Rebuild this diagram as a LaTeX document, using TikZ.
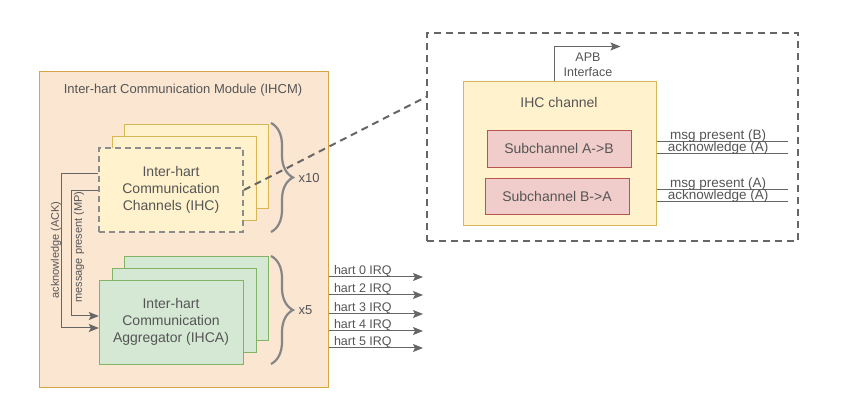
\documentclass[tikz,border=0pt]{standalone}
\usepackage{fontspec}
\setmainfont{Liberation Sans}
\usetikzlibrary{decorations.pathreplacing, arrows.meta}
\definecolor{txtgray}{HTML}{555555}
\definecolor{linegray}{HTML}{666666}
\definecolor{modfill}{HTML}{FAE6D1}
\definecolor{moddraw}{HTML}{D6A548}
\definecolor{ylwfill}{HTML}{FFF2CC}
\definecolor{ylwdraw}{HTML}{D6B656}
\definecolor{grnfill}{HTML}{D5E8D4}
\definecolor{grndraw}{HTML}{82B366}
\definecolor{redfill}{HTML}{F0CDCB}
\definecolor{reddraw}{HTML}{B85450}
\begin{document}
\begin{tikzpicture}[x=1pt, y=-1pt, every node/.style={text=txtgray},
    card/.style={shape=rectangle, draw=ylwdraw, fill=ylwfill, minimum width=144pt, minimum height=84pt, align=center, font=\fontsize{14}{17}\selectfont},
    aggcard/.style={card, draw=grndraw, fill=grnfill},
    subbox/.style={shape=rectangle, draw=reddraw, fill=redfill, minimum width=144pt, minimum height=37pt, font=\fontsize{14}{17}\selectfont},
    sig/.style={draw=linegray, line width=1pt},
    sigarrow/.style={sig, -{Stealth[length=10pt, width=8pt, inset=2pt]}},
    lbl/.style={font=\fontsize{13}{15}\selectfont},
    small/.style={font=\fontsize{11}{13}\selectfont},
    siglbl/.style={pos=0.47, anchor=south, inner sep=0pt, yshift=-1pt, font=\fontsize{13.5}{15}\selectfont},
    bracket/.style={draw=gray!95, line width=2.2pt, decorate, decoration={brace, amplitude=22pt}},
    zoomline/.style={draw=linegray, line width=2pt, dash pattern=on 7pt off 5pt}]
    \useasboundingbox (0,0) rectangle (855,411);

    % module
    \node[shape=rectangle, draw=moddraw, fill=modfill, line width=1pt, minimum width=289pt, minimum height=316pt] (ihcm) at (183.5,230) {};
    \node[lbl] (ihcmtitle) at (183,90) {Inter-hart Communication Module (IHCM)};

    % channel stack
    \node[card] (ihcback) at (196,166) {};
    \node[card] (ihcmid) at (184,178.5) {};
    \node[card, draw=gray!90, line width=2pt, dash pattern=on 6pt off 4pt] (ihc) at (171,190) {Inter-hart\\Communication\\Channels (IHC)};
    \draw[bracket] (271,123) -- (271,232);
    \node[lbl, anchor=west] (ihcnum) at (295,178) {x10};

    % aggregator stack
    \node[aggcard] (ihcaback) at (196,298.5) {};
    \node[aggcard] (ihcamid) at (184,310) {};
    \node[aggcard] (ihca) at (171,322) {Inter-hart\\Communication\\Aggregator (IHCA)};
    \draw[bracket] (271,256) -- (271,364);
    \node[lbl, anchor=west] (ihcanum) at (295,310) {x5};

    % ack / mp
    \draw[sigarrow] ([yshift=16pt]ihc.west) -- ++(-37,0) |- ([yshift=-6pt]ihca.west);
    \draw[sigarrow] ([yshift=-1pt]ihc.west) -- ++(-27,0) |- ([yshift=6pt]ihca.west);
    \node[small, rotate=90] (acklbl) at (56,250) {acknowledge (ACK)};
    \node[small, rotate=90] (mplbl) at (79,247) {message present (MP)};

    % irq outputs
    \foreach \h/\y in {0/277, 2/295, 3/314, 4/331, 5/348} {
        \coordinate (irq\h) at (423,\y);
        \draw[sigarrow] (ihcm.east |- irq\h) -- (irq\h) node[pos=0, anchor=south west, inner sep=0pt, xshift=5pt, font=\fontsize{12.5}{14}\selectfont] {hart \h\ IRQ};
    }

    % zoomed channel
    \node[shape=rectangle, draw=linegray, line width=2pt, dash pattern=on 7pt off 5pt, minimum width=371pt, minimum height=208pt] (zoom) at (612.5,137) {};
    \draw[zoomline] (ihc.east) -- ([yshift=40pt]zoom.west);
    \node[shape=rectangle, draw=ylwdraw, fill=ylwfill, line width=1pt, minimum width=193pt, minimum height=144pt] (chan) at (559.5,154) {};
    \node[font=\fontsize{14}{17}\selectfont] (chantitle) at (559,102) {IHC channel};
    \node[subbox] (subab) at (559,148.5) {Subchannel A->B};
    \node[subbox, minimum height=36pt] (subba) at (557,196) {Subchannel B->A};

    \draw[sigarrow] ([xshift=-5pt]chan.north) -- ++(0,-35) -- ++(66,0);
    \node[align=center, font=\fontsize{12.5}{15}\selectfont] (apb) at (588,65) {APB\\Interface};

    \draw[sig] ([yshift=12pt]chan.east) -- ++(131,0) node[siglbl] {msg present (B)};
    \draw[sig] (chan.east) -- ++(131,0) node[siglbl] {acknowledge (A)};
    \draw[sig] ([yshift=-36pt]chan.east) -- ++(131,0) node[siglbl] {msg present (A)};
    \draw[sig] ([yshift=-48pt]chan.east) -- ++(131,0) node[siglbl] {acknowledge (A)};
\end{tikzpicture}
\end{document}
